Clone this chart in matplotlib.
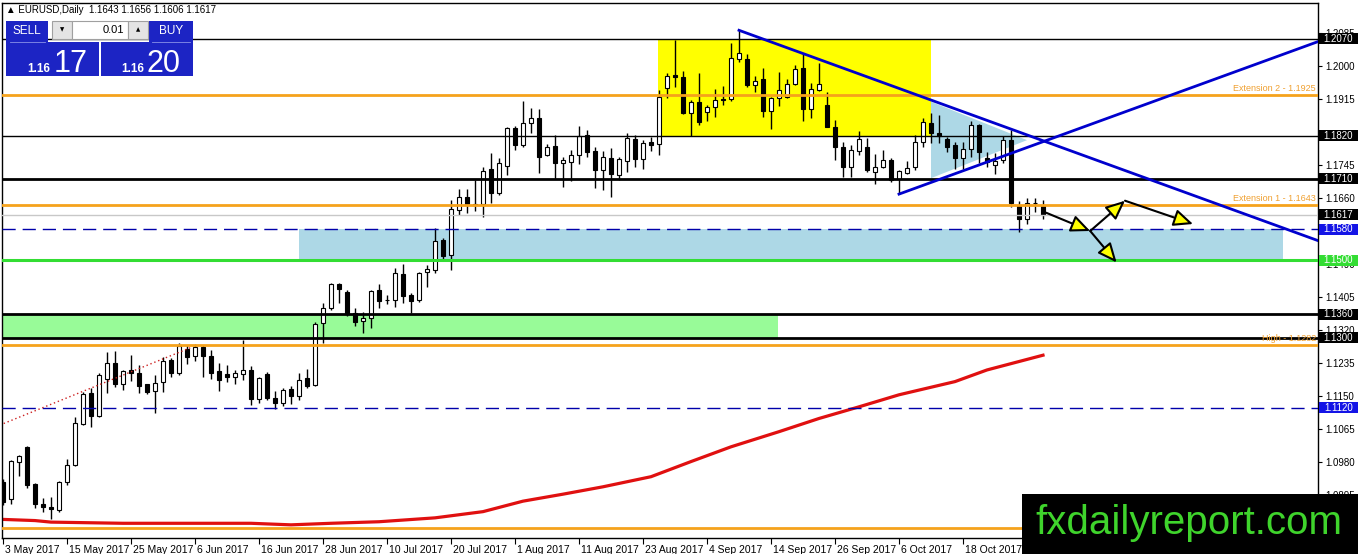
import numpy as np
import matplotlib.pyplot as plt
import matplotlib.transforms as mtransforms
from matplotlib.patches import Rectangle, Polygon, FancyArrowPatch

plt.rcParams['font.family'] = ['Liberation Sans', 'DejaVu Sans']

# daily candles, EURUSD, 3 May 2017 .. 1 Nov 2017 (bar index = trading day)
opens = [1.0929, 1.0884, 1.0980, 1.1018, 1.0922, 1.0872, 1.0865, 1.0856, 1.0928, 1.0972,
         1.1078, 1.1157, 1.1098, 1.1193, 1.1234, 1.1180, 1.1217, 1.1210, 1.1180, 1.1163,
         1.1185, 1.1243, 1.1210, 1.1271, 1.1252, 1.1277, 1.1254, 1.1214, 1.1207, 1.1200,
         1.1207, 1.1217, 1.1141, 1.1207, 1.1144, 1.1131, 1.1167, 1.1150, 1.1196, 1.1178,
         1.1337, 1.1376, 1.1438, 1.1419, 1.1363, 1.1343, 1.1350, 1.1423, 1.1398, 1.1396,
         1.1464, 1.1410, 1.1396, 1.1470, 1.1474, 1.1553, 1.1513, 1.1628, 1.1663, 1.1643,
         1.1644, 1.1734, 1.1674, 1.1742, 1.1840, 1.1797, 1.1852, 1.1867, 1.1771, 1.1793,
         1.1749, 1.1752, 1.1770, 1.1822, 1.1780, 1.1732, 1.1762, 1.1719, 1.1756, 1.1811,
         1.1760, 1.1805, 1.1799, 1.1943, 1.1977, 1.1971, 1.1880, 1.1908, 1.1882, 1.1894,
         1.1915, 1.1914, 1.2018, 1.2017, 1.1951, 1.1966, 1.1885, 1.1917, 1.1921, 1.1953,
         1.1994, 1.1888, 1.1938, 1.1900, 1.1844, 1.1792, 1.1741, 1.1781, 1.1792, 1.1728,
         1.1741, 1.1758, 1.1710, 1.1724, 1.1739, 1.1805, 1.1854, 1.1828, 1.1813, 1.1797,
         1.1764, 1.1785, 1.1849, 1.1762, 1.1745, 1.1758, 1.1809, 1.1639, 1.1605, 1.1646,
         1.1643]
highs = [1.0935, 1.0986, 1.0997, 1.1020, 1.0925, 1.0886, 1.0889, 1.0930, 1.0987, 1.1095,
         1.1161, 1.1171, 1.1208, 1.1263, 1.1266, 1.1218, 1.1256, 1.1230, 1.1182, 1.1204,
         1.1250, 1.1248, 1.1286, 1.1280, 1.1283, 1.1281, 1.1268, 1.1234, 1.1230, 1.1217,
         1.1294, 1.1227, 1.1200, 1.1212, 1.1163, 1.1170, 1.1175, 1.1208, 1.1220, 1.1341,
         1.1389, 1.1442, 1.1442, 1.1422, 1.1376, 1.1367, 1.1423, 1.1438, 1.1410, 1.1479,
         1.1490, 1.1416, 1.1470, 1.1487, 1.1582, 1.1556, 1.1655, 1.1682, 1.1682, 1.1707,
         1.1739, 1.1775, 1.1762, 1.1844, 1.1845, 1.1910, 1.1891, 1.1888, 1.1798, 1.1822,
         1.1766, 1.1784, 1.1845, 1.1835, 1.1792, 1.1780, 1.1788, 1.1765, 1.1827, 1.1822,
         1.1809, 1.1818, 1.1938, 1.1983, 1.2067, 1.1986, 1.1912, 1.1981, 1.1899, 1.1940,
         1.1948, 1.2058, 1.2092, 1.2031, 1.1974, 1.1994, 1.1921, 1.1985, 1.1966, 1.2002,
         1.2033, 1.1955, 1.2007, 1.1934, 1.1861, 1.1805, 1.1797, 1.1833, 1.1815, 1.1773,
         1.1784, 1.1762, 1.1733, 1.1755, 1.1822, 1.1865, 1.1878, 1.1874, 1.1818, 1.1805,
         1.1805, 1.1859, 1.1851, 1.1779, 1.1775, 1.1819, 1.1835, 1.1651, 1.1659, 1.1659,
         1.1656]
lows = [1.0870, 1.0872, 1.0945, 1.0913, 1.0861, 1.0850, 1.0834, 1.0852, 1.0920, 1.0970,
        1.1075, 1.1071, 1.1095, 1.1158, 1.1172, 1.1165, 1.1189, 1.1158, 1.1155, 1.1107,
        1.1161, 1.1198, 1.1205, 1.1232, 1.1240, 1.1200, 1.1193, 1.1164, 1.1185, 1.1180,
        1.1190, 1.1127, 1.1132, 1.1140, 1.1116, 1.1124, 1.1130, 1.1140, 1.1170, 1.1175,
        1.1287, 1.1371, 1.1389, 1.1355, 1.1330, 1.1312, 1.1325, 1.1376, 1.1386, 1.1380,
        1.1389, 1.1364, 1.1393, 1.1431, 1.1468, 1.1500, 1.1474, 1.1617, 1.1622, 1.1627,
        1.1610, 1.1648, 1.1668, 1.1719, 1.1784, 1.1792, 1.1828, 1.1725, 1.1768, 1.1710,
        1.1688, 1.1705, 1.1748, 1.1766, 1.1685, 1.1681, 1.1662, 1.1707, 1.1728, 1.1740,
        1.1734, 1.1782, 1.1771, 1.1917, 1.1947, 1.1877, 1.1820, 1.1848, 1.1859, 1.1868,
        1.1900, 1.1910, 1.2010, 1.1947, 1.1934, 1.1869, 1.1837, 1.1897, 1.1917, 1.1950,
        1.1859, 1.1865, 1.1936, 1.1842, 1.1758, 1.1713, 1.1713, 1.1772, 1.1727, 1.1695,
        1.1736, 1.1700, 1.1670, 1.1721, 1.1733, 1.1792, 1.1801, 1.1802, 1.1779, 1.1734,
        1.1734, 1.1765, 1.1749, 1.1741, 1.1723, 1.1751, 1.1638, 1.1573, 1.1593, 1.1623,
        1.1606]
closes = [1.0877, 1.0982, 1.0995, 1.0920, 1.0871, 1.0863, 1.0858, 1.0928, 1.0971, 1.1080,
          1.1155, 1.1099, 1.1204, 1.1234, 1.1180, 1.1215, 1.1208, 1.1176, 1.1159, 1.1184,
          1.1240, 1.1210, 1.1279, 1.1250, 1.1277, 1.1254, 1.1210, 1.1191, 1.1200, 1.1210,
          1.1217, 1.1142, 1.1195, 1.1146, 1.1131, 1.1165, 1.1150, 1.1191, 1.1176, 1.1335,
          1.1376, 1.1438, 1.1425, 1.1361, 1.1341, 1.1350, 1.1420, 1.1395, 1.1396, 1.1468,
          1.1408, 1.1395, 1.1468, 1.1476, 1.1550, 1.1510, 1.1631, 1.1662, 1.1644, 1.1645,
          1.1730, 1.1674, 1.1749, 1.1840, 1.1797, 1.1852, 1.1867, 1.1766, 1.1792, 1.1749,
          1.1758, 1.1770, 1.1820, 1.1778, 1.1732, 1.1765, 1.1722, 1.1760, 1.1814, 1.1760,
          1.1802, 1.1797, 1.1921, 1.1975, 1.1971, 1.1880, 1.1908, 1.1857, 1.1894, 1.1912,
          1.1912, 1.2020, 1.2033, 1.1951, 1.1962, 1.1885, 1.1917, 1.1938, 1.1953, 1.1991,
          1.1889, 1.1940, 1.1954, 1.1844, 1.1791, 1.1741, 1.1784, 1.1813, 1.1732, 1.1741,
          1.1758, 1.1706, 1.1730, 1.1736, 1.1805, 1.1857, 1.1827, 1.1820, 1.1792, 1.1762,
          1.1785, 1.1849, 1.1779, 1.1753, 1.1756, 1.1809, 1.1646, 1.1605, 1.1648, 1.1648,
          1.1617]

# red moving average, read at a few bars
ma_idx = [0, 4, 6, 15, 31, 36, 41, 47, 54, 60, 65, 70, 75, 81, 86, 91, 97, 102, 107, 112, 119, 123, 130]
ma_val = [1.0832, 1.0829, 1.0825, 1.0822, 1.0822, 1.0818, 1.0822, 1.0826, 1.0836, 1.0852, 1.0879, 1.0897,
          1.0916, 1.0942, 1.0981, 1.1019, 1.1058, 1.1092, 1.1122, 1.1153, 1.1187, 1.1217, 1.1255]

date_idx = [0, 8, 16, 24, 32, 40, 48, 56, 64, 72, 80, 88, 96, 104, 112, 120]
date_labels = ['3 May 2017', '15 May 2017', '25 May 2017', '6 Jun 2017', '16 Jun 2017', '28 Jun 2017',
               '10 Jul 2017', '20 Jul 2017', '1 Aug 2017', '11 Aug 2017', '23 Aug 2017', '4 Sep 2017',
               '14 Sep 2017', '26 Sep 2017', '6 Oct 2017', '18 Oct 2017']
# scale ticks (1.1830 and 1.1575 sit fully under price tags, so only their marks are drawn)
price_ticks = [1.2085, 1.2000, 1.1915, 1.1830, 1.1745, 1.1660, 1.1575, 1.1490, 1.1405,
               1.1320, 1.1235, 1.1150, 1.1065, 1.0980, 1.0895]
hidden_ticks = [1.1830, 1.1575]

# horizontal levels
lvl_price = [1.2070, 1.1925, 1.1820, 1.1710, 1.1643, 1.1617, 1.1580, 1.1500, 1.1360, 1.1300, 1.1282, 1.1120, 1.0811]
lvl_color = ['black', '#f5a21c', 'black', 'black', '#f5a21c', '#c8c8c8', '#0000aa', '#33dd33',
             'black', 'black', '#f5a21c', '#0000aa', '#f5a21c']
lvl_width = [1, 2, 1, 2, 2, 1, 1, 2.2, 2, 2, 2, 1, 2]
lvl_dashed = [False, False, False, False, False, False, True, False, False, False, False, True, False]

# price tags on the right scale
tag_price = [1.2070, 1.1820, 1.1710, 1.1617, 1.1580, 1.1500, 1.1360, 1.1300, 1.1120]
tag_color = ['black', 'black', 'black', 'black', '#1414e6', '#33dd33', 'black', 'black', '#1414e6']

# text on levels
note_price = [1.1925, 1.1643, 1.1282]
note_text = ['Extension 2 - 1.1925', 'Extension 1 - 1.1643', 'High - 1.1282']

# zones (bar from, bar to, low, high)
zone_x0 = [81.9, 37, -0.5]
zone_x1 = [116.0, 160, 96.9]
zone_lo = [1.1820, 1.1500, 1.1300]
zone_hi = [1.2070, 1.1580, 1.1360]
zone_col = ['#ffff00', '#add8e6', '#98fb98']

tri_x = [116, 116, 128]
tri_y = [1.1908, 1.1711, 1.1809]

trend_down_x, trend_down_y = [92, 164.4], [1.2092, 1.1550]
trend_up_x, trend_up_y = [112, 164.4], [1.1670, 1.2063]
dotted_x, dotted_y = [-0.4, 23.4], [1.1075, 1.1274]

arrows = [(130.4, 1.1622, 135.9, 1.1575),
          (135.9, 1.1575, 140.25, 1.1653),
          (140.25, 1.1653, 148.75, 1.1593),
          (135.9, 1.1575, 139.2, 1.1494)]

W, H = 1358, 554
fig = plt.figure(figsize=(W / 100, H / 100), dpi=100)
ax = fig.add_axes([2 / W, 16 / H, 1316 / W, 535 / H])
ax.set_xlim(-0.125, 164.375)
ax.set_ylim(1.07841, 1.21623)

for x0, x1, lo, hi, c in zip(zone_x0, zone_x1, zone_lo, zone_hi, zone_col):
    ax.add_patch(Rectangle((x0, lo), x1 - x0, hi - lo, fc=c, ec='none', zorder=1))
ax.add_patch(Polygon(list(zip(tri_x, tri_y)), closed=True, fc='#add8e6', ec='none', zorder=1))

ax.plot(ma_idx, ma_val, color='#e01010', lw=2.3, zorder=2)

# candles
idx = np.arange(len(opens))
o, h, l, c = map(np.array, (opens, highs, lows, closes))
ax.vlines(idx, l, h, colors='black', linewidth=1, zorder=2.9)
bottom = np.minimum(o, c)
height = np.maximum(np.abs(c - o), 0.00008)
face = np.where(c >= o, 'white', 'black')
ax.bar(idx, height, width=0.62, bottom=bottom, color=face, edgecolor='black', linewidth=0.8, zorder=3)

for p, col, lw, dsh in zip(lvl_price, lvl_color, lvl_width, lvl_dashed):
    ax.axhline(p, color=col, lw=lw, ls=(0, (9.5, 5)) if dsh else '-', zorder=4)

ax.plot(trend_down_x, trend_down_y, color='#0000cd', lw=2, zorder=4.5)
ax.plot(trend_up_x, trend_up_y, color='#0000cd', lw=2, zorder=4.5)
ax.plot(dotted_x, dotted_y, color='#cc2020', lw=1, ls=(0, (1, 2)), zorder=4.5)

for x0, y0, x1, y1 in arrows:
    ax.add_patch(FancyArrowPatch((x0, y0), (x1, y1), arrowstyle='-|>,head_length=0.9,head_width=0.4',
                                 mutation_scale=13, fc='yellow', ec='black', lw=1.5,
                                 shrinkA=0, shrinkB=0, zorder=5))

blend = mtransforms.blended_transform_factory(ax.transAxes, ax.transData)
for p, t in zip(note_price, note_text):
    ax.text(0.9985, p + 0.0005, t, transform=blend, ha='right', va='bottom',
            color='#f0a030', fontsize=6.5, zorder=6)

# axes styling
for s in ax.spines.values():
    s.set_color('black')
    s.set_linewidth(1)
ax.yaxis.tick_right()
ax.set_yticks(price_ticks)
ax.set_yticklabels(['' if v in hidden_ticks else f'{v:.4f}' for v in price_ticks])
ax.tick_params(axis='y', length=3, pad=2, labelsize=7, colors='black')
ax.set_xticks(date_idx)
ax.set_xticklabels(date_labels)
ax.tick_params(axis='x', length=4, pad=1, labelsize=7.5, colors='black')
shift = mtransforms.ScaledTranslation(2 / 100, 0, fig.dpi_scale_trans)
for lab in ax.get_xticklabels():
    lab.set_ha('left')
    lab.set_transform(lab.get_transform() + shift)

# tags on the price scale
y0, y1 = ax.get_ylim()
box_h = 11 * (y1 - y0) / 535
box_w = 39 / 1316
for p, col in zip(tag_price, tag_color):
    ax.add_patch(Rectangle((1.0008, p - box_h / 2), box_w, box_h, transform=blend, fc=col, ec='none',
                           clip_on=False, zorder=10))
    ax.text(1.0008 + box_w / 2, p, f'{p:.4f}', transform=blend, ha='center', va='center',
            color='white', fontsize=7, clip_on=False, zorder=11)

# overlay in pixel coordinates: title, trade panel, watermark
ov = fig.add_axes([0, 0, 1, 1], zorder=5)
ov.set_xlim(0, W)
ov.set_ylim(H, 0)
ov.axis('off')
ov.patch.set_alpha(0)

ov.text(6, 10, '▲ EURUSD,Daily  1.1643 1.1656 1.1606 1.1617', fontsize=7, va='center', ha='left')

blue = '#1c24c4'
ov.add_patch(Rectangle((6, 21), 42, 21, fc=blue, ec='none'))
ov.add_patch(Rectangle((149, 21), 44, 21, fc=blue, ec='none'))
ov.add_patch(Rectangle((52, 21), 20, 18, fc='#e4e4e4', ec='#a0a0a0', lw=0.8))
ov.add_patch(Rectangle((72, 21), 56, 18, fc='white', ec='#a0a0a0', lw=0.8))
ov.add_patch(Rectangle((128, 21), 20, 18, fc='#e4e4e4', ec='#a0a0a0', lw=0.8))
ov.add_patch(Rectangle((6, 42), 93, 34, fc=blue, ec='none'))
ov.add_patch(Rectangle((101, 42), 92, 34, fc=blue, ec='none'))
ov.plot([10, 45], [41.5, 41.5], color='#8890e8', lw=0.6)
ov.plot([152, 190], [41.5, 41.5], color='#8890e8', lw=0.6)
ov.text(27, 31, 'SELL', color='white', fontsize=8.5, ha='center', va='center')
ov.text(171, 31, 'BUY', color='white', fontsize=8.5, ha='center', va='center')
ov.text(62, 30, '▼', fontsize=4, ha='center', va='center', family='DejaVu Sans')
ov.text(138, 30, '▲', fontsize=4, ha='center', va='center', family='DejaVu Sans')
ov.text(124, 30, '0.01', fontsize=8, ha='right', va='center')
ov.text(50, 72, '1.16', color='white', fontsize=8.5, fontweight='bold', ha='right', va='baseline')
ov.text(54, 72, '17', color='white', fontsize=22, ha='left', va='baseline')
ov.text(144, 72, '1.16', color='white', fontsize=8.5, fontweight='bold', ha='right', va='baseline')
ov.text(147, 72, '20', color='white', fontsize=22, ha='left', va='baseline')

ov.add_patch(Rectangle((1022, 494), W - 1022, H - 494, fc='black', ec='none'))
ov.text(1189, 523, 'fxdailyreport.com', color='#3fd42c', fontsize=29, ha='center', va='center')

fig.savefig('out.png', dpi=100)
